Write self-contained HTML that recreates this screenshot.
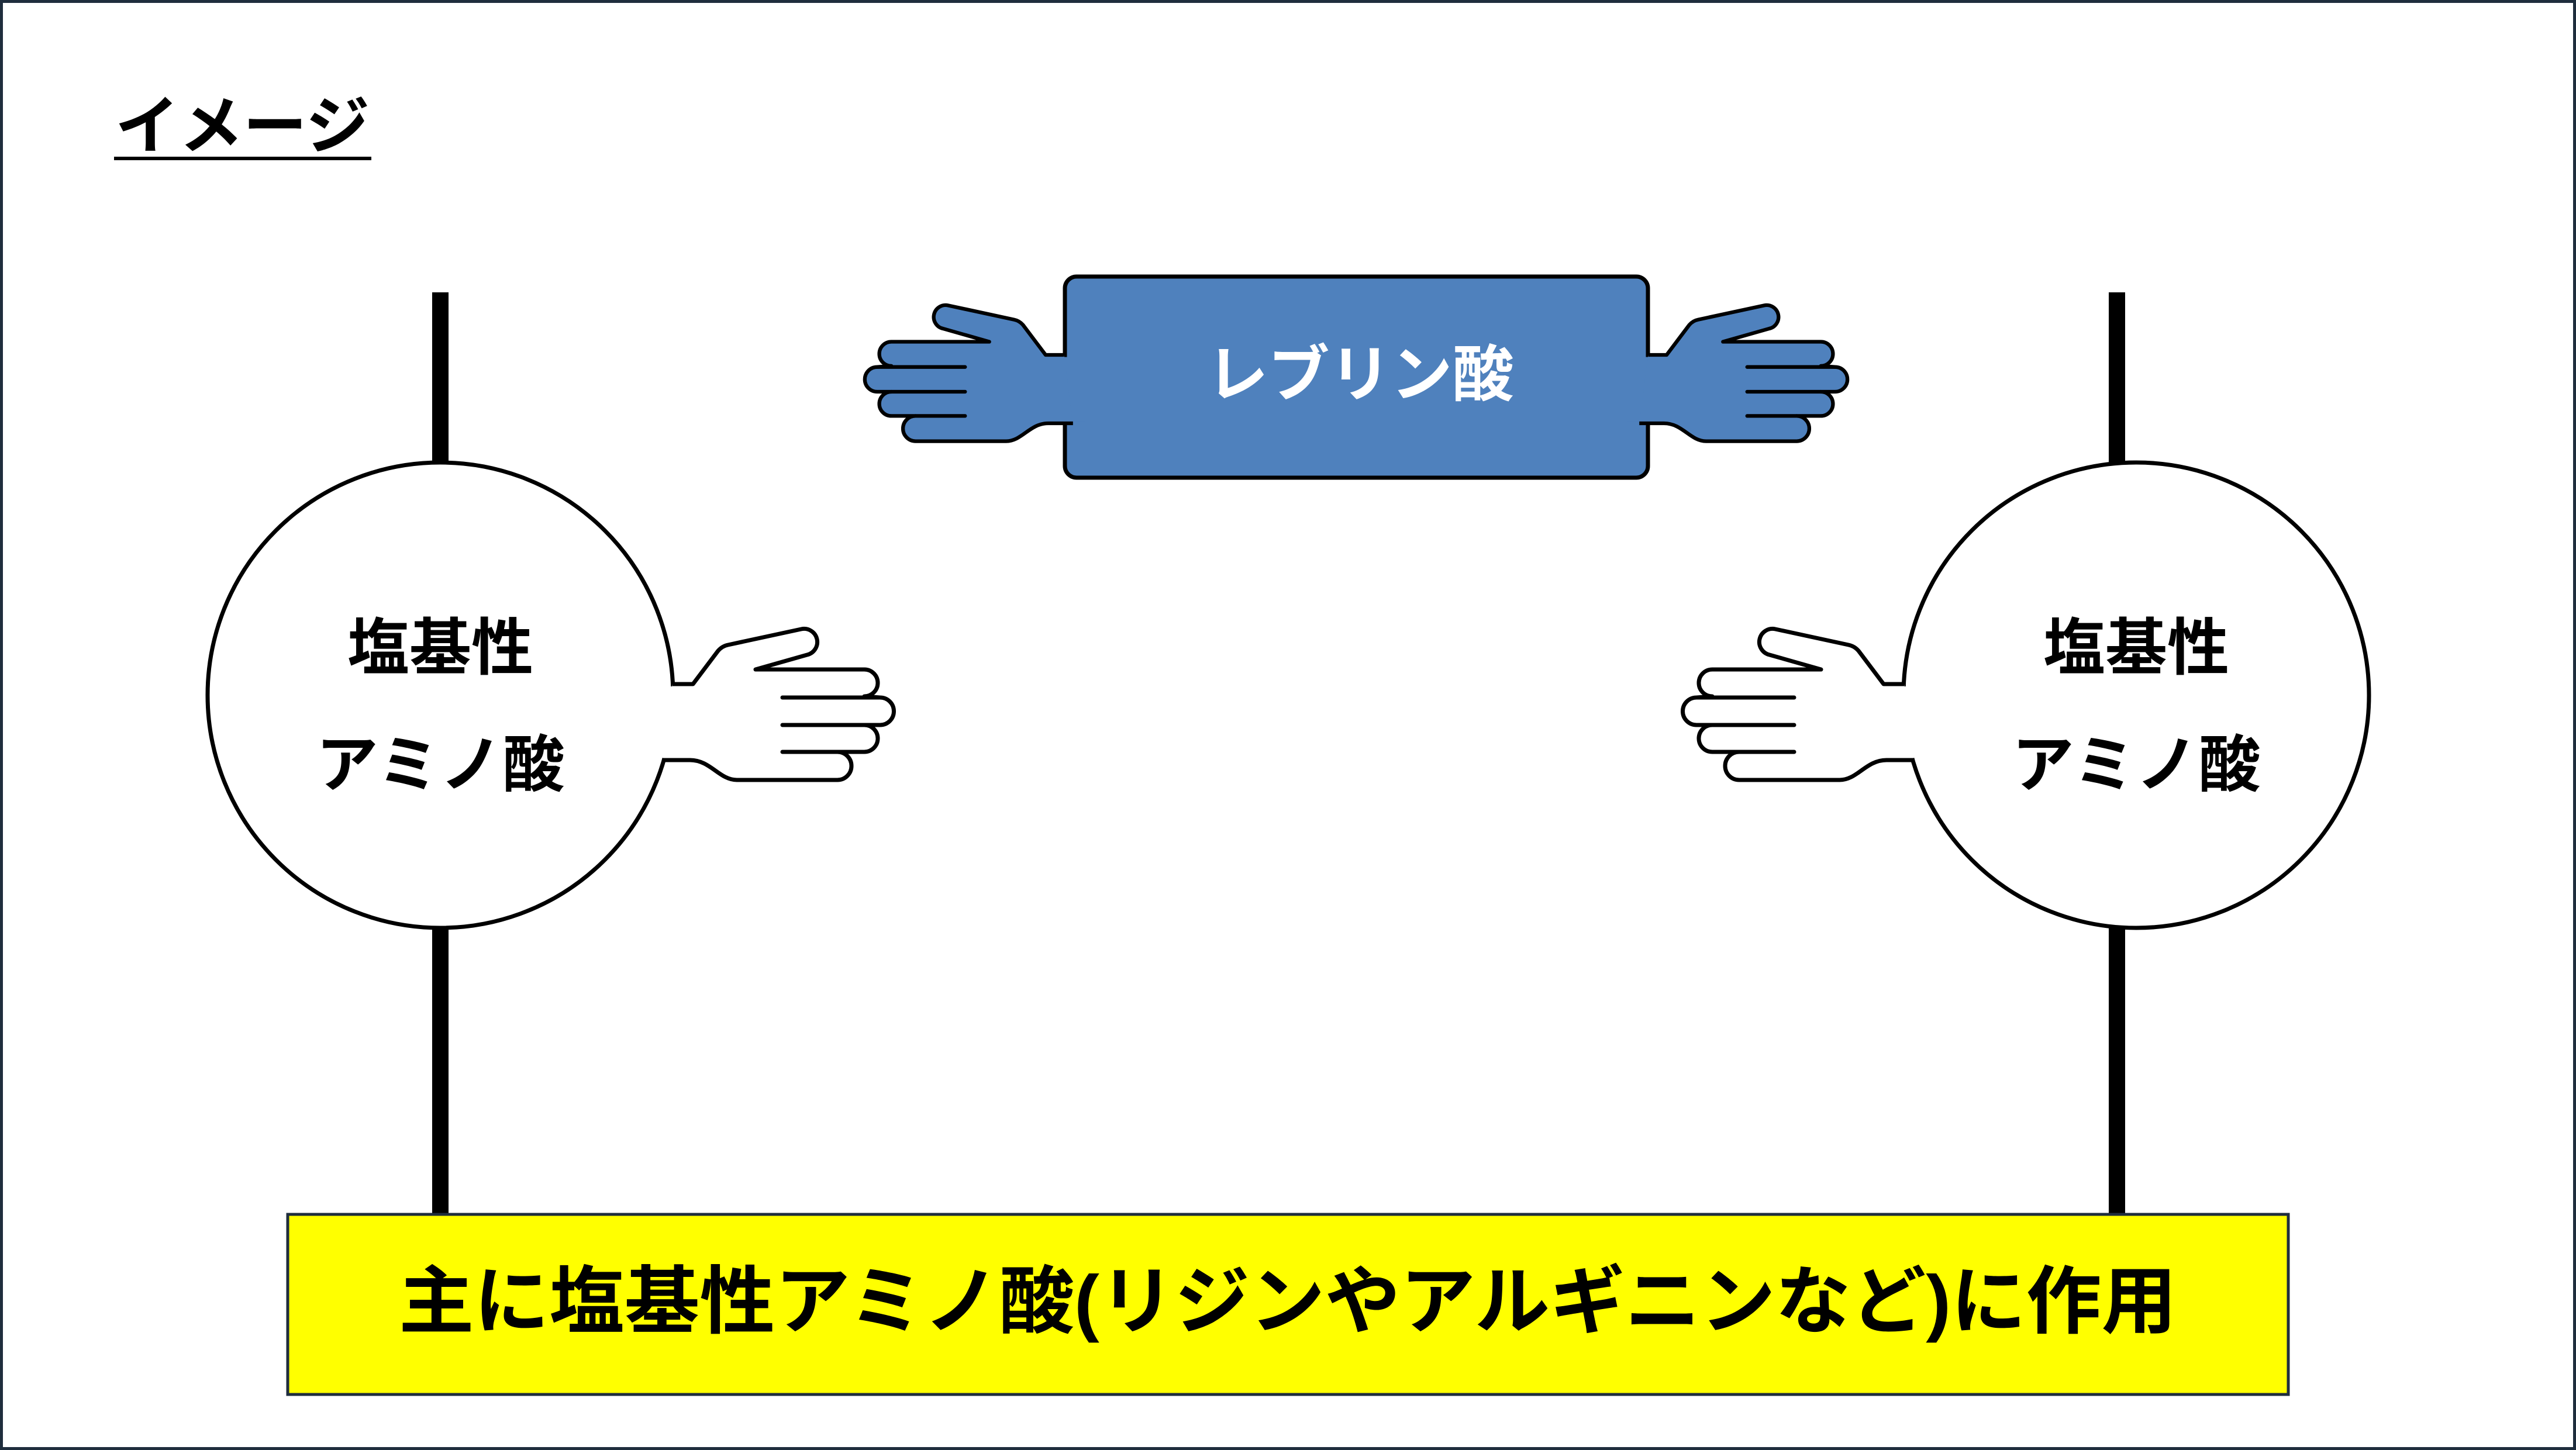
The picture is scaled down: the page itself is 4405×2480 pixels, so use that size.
<!DOCTYPE html>
<html><head><meta charset="utf-8"><style>
html,body{margin:0;padding:0;background:#fff}
svg{display:block}
text{font-family:"Liberation Sans","Noto Sans CJK JP",sans-serif;font-weight:bold}
</style></head><body>
<svg width="4405" height="2480" viewBox="0 0 4405 2480" xmlns="http://www.w3.org/2000/svg">
<defs>
<g id="hand">
<path d="M1150,1170 L1185,1170 L1228,1113 Q1235,1105 1245,1103 L1370,1076 A22,22 0 0 1 1380,1120 L1292,1145 L1478,1145 A23,23 0 0 1 1478,1191 L1505,1193 A23.5,23.5 0 0 1 1505,1240 L1478,1240 A23,23 0 0 1 1478,1286 L1432,1286 A24,24 0 0 1 1432,1334 L1260,1334 C1230,1334 1215,1300 1180,1300 L1133,1300" stroke="#000" stroke-width="7" stroke-linejoin="round"/>
<path d="M1338,1193 L1505,1193 M1338,1240 L1478,1240 M1338,1286 L1432,1286" stroke="#000" stroke-width="7" stroke-linecap="round" fill="none"/>
</g>
</defs>
<rect x="2.5" y="2.5" width="4400" height="2475" fill="#fff" stroke="#1f2d3d" stroke-width="5"/>
<text x="197" y="253" font-size="108" textLength="435" lengthAdjust="spacingAndGlyphs">イメージ</text>
<rect x="195" y="268" width="440" height="6" fill="#000"/>

<!-- bars -->
<rect x="739" y="500" width="28" height="292" fill="#000"/>
<rect x="739" y="1586" width="28" height="495" fill="#000"/>
<rect x="3606" y="500" width="28" height="292" fill="#000"/>
<rect x="3606" y="1586" width="28" height="495" fill="#000"/>

<!-- circles -->
<circle cx="753" cy="1189" r="398" fill="#fff" stroke="#000" stroke-width="7"/>
<circle cx="3653" cy="1189" r="398" fill="#fff" stroke="#000" stroke-width="7"/>
<g fill="#fff">
<rect x="1125" y="1174" width="40" height="122" fill="#fff"/>
<use href="#hand"/>
</g>
<g fill="#fff" transform="translate(4406,0) scale(-1,1)">
<rect x="1125" y="1174" width="40" height="122" fill="#fff"/>
<use href="#hand"/>
</g>
<text x="753" y="1145" font-size="106" text-anchor="middle">塩基性</text>
<text x="753" y="1345" font-size="106" text-anchor="middle" textLength="425" lengthAdjust="spacing">アミノ酸</text>
<text x="3653" y="1145" font-size="106" text-anchor="middle">塩基性</text>
<text x="3653" y="1345" font-size="106" text-anchor="middle" textLength="425" lengthAdjust="spacing">アミノ酸</text>

<!-- blue box -->
<rect x="1821" y="473" width="997" height="344" rx="20" fill="#4f81bd" stroke="#000" stroke-width="7"/>
<g fill="#4f81bd" transform="matrix(-0.9,0,0,0.9,2854.5,-446)">
<rect x="1110" y="1174" width="50" height="122"/>
<use href="#hand"/>
</g>
<g fill="#4f81bd" transform="matrix(0.9,0,0,0.9,1783.5,-446)">
<rect x="1110" y="1174" width="50" height="122"/>
<use href="#hand"/>
</g>
<text x="2326" y="677" font-size="105" text-anchor="middle" fill="#fff" textLength="525" lengthAdjust="spacing">レブリン酸</text>

<!-- yellow box -->
<rect x="492" y="2077" width="3421" height="308" fill="#ffff00" stroke="#1f2d3d" stroke-width="5"/>
<text x="2202" y="2270" font-size="127" text-anchor="middle" textLength="3040" lengthAdjust="spacingAndGlyphs">主に塩基性アミノ酸(リジンやアルギニンなど)に作用</text>
</svg>
</body></html>
